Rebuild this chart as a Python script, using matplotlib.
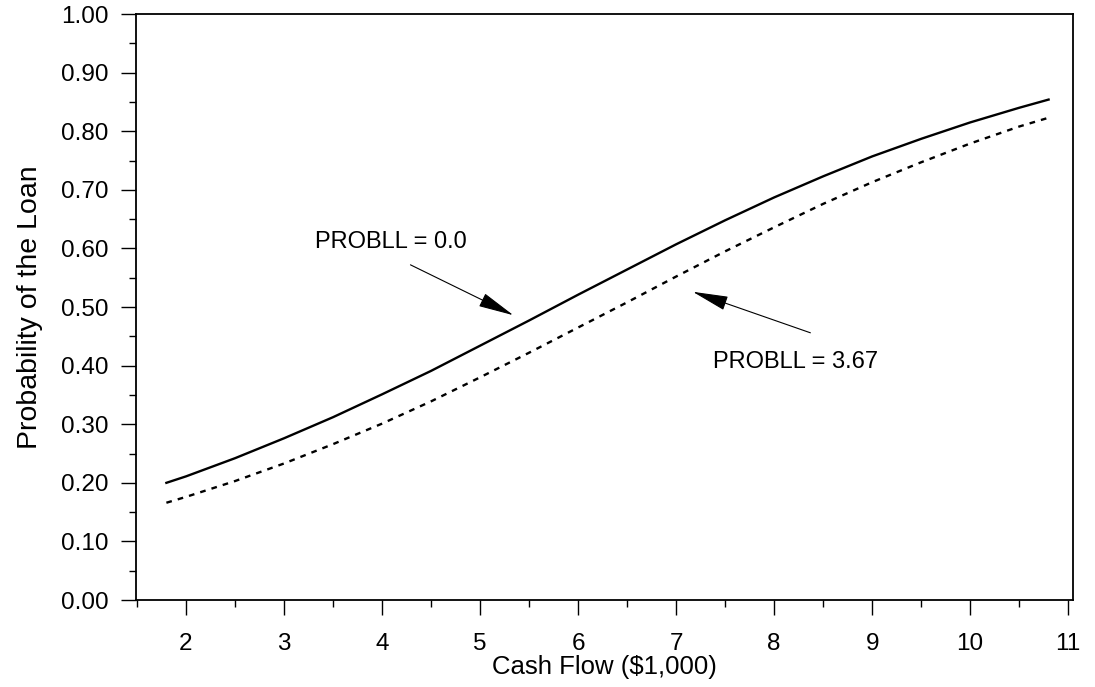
import matplotlib
matplotlib.use("Agg")
import matplotlib.pyplot as plt
from matplotlib.ticker import MultipleLocator

# values
cash_flow = [1.8, 2.0, 2.5, 3.0, 3.5, 4.0, 4.5, 5.0, 5.5, 6.0, 6.5,
             7.0, 7.5, 8.0, 8.5, 9.0, 9.5, 10.0, 10.5, 10.8]
prob_probll_0 = [0.200, 0.211, 0.242, 0.276, 0.312, 0.351, 0.391, 0.434, 0.477, 0.521, 0.564,
                 0.607, 0.648, 0.687, 0.723, 0.757, 0.787, 0.815, 0.840, 0.854]
prob_probll_367 = [0.166, 0.176, 0.203, 0.233, 0.266, 0.301, 0.339, 0.380, 0.422, 0.465, 0.508,
                   0.552, 0.595, 0.636, 0.676, 0.713, 0.747, 0.779, 0.808, 0.823]

x_ticks = [2, 3, 4, 5, 6, 7, 8, 9, 10, 11]
y_ticks = [0.0, 0.1, 0.2, 0.3, 0.4, 0.5, 0.6, 0.7, 0.8, 0.9, 1.0]

plt.rcParams['font.family'] = ['Liberation Sans', 'DejaVu Sans']

fig = plt.figure(figsize=(10.95, 6.87), dpi=100)
ax = fig.add_axes([0.1242, 0.1266, 0.8558, 0.853])

ax.plot(cash_flow, prob_probll_0, color='black', lw=1.7)
ax.plot(cash_flow, prob_probll_367, color='black', lw=1.7, dashes=(2.4, 2.6))

arrow = dict(arrowstyle='-|>,head_length=1.25,head_width=0.25', color='black',
             lw=0.8, mutation_scale=18, shrinkA=0, shrinkB=0)
ax.annotate('', xy=(5.34, 0.486), xytext=(4.29, 0.572), arrowprops=arrow)
ax.text(4.09, 0.611, 'PROBLL = 0.0', fontsize=17, ha='center', va='center')
ax.annotate('', xy=(7.17, 0.526), xytext=(8.37, 0.456), arrowprops=arrow)
ax.text(8.22, 0.406, 'PROBLL = 3.67', fontsize=17, ha='center', va='center')

ax.set_xlim(1.49, 11.05)
ax.set_ylim(0, 1.0)
ax.set_xticks(x_ticks)
ax.set_yticks(y_ticks)
ax.set_yticklabels(['%.2f' % v for v in y_ticks])
ax.xaxis.set_minor_locator(MultipleLocator(0.5))
ax.yaxis.set_minor_locator(MultipleLocator(0.05))
ax.tick_params(which='major', direction='out', length=11, width=1.0, labelsize=17.5, pad=9)
ax.tick_params(axis='x', which='major', pad=13)
ax.tick_params(which='minor', direction='out', length=5, width=1.0)
ax.tick_params(top=False, right=False, which='both')
for s in ax.spines.values():
    s.set_linewidth(1.3)

ax.set_xlabel('Cash Flow ($1,000)', fontsize=18.5, labelpad=0)
ax.set_ylabel('Probability of the Loan', fontsize=20.5, labelpad=13)

fig.savefig('out.png', dpi=100)
